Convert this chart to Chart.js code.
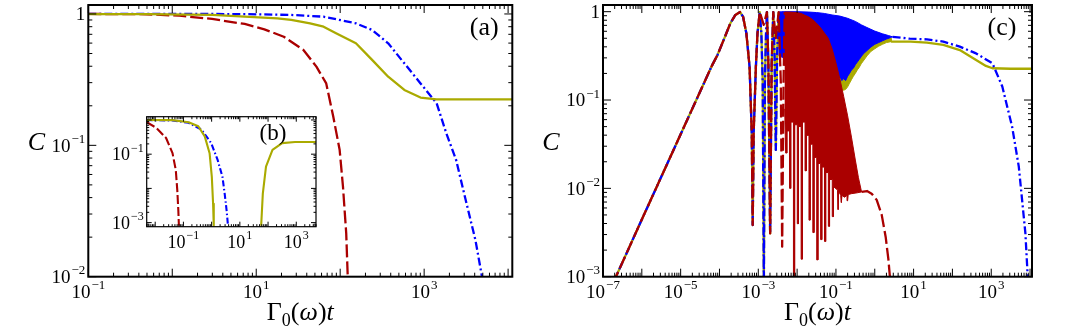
<!DOCTYPE html>
<html>
<head>
<meta charset="utf-8">
<script src="https://cdn.jsdelivr.net/npm/chart.js@4.4.0/dist/chart.umd.min.js"></script>
<style>
  body { margin: 0; background: #fff; }
  #wrap { position: relative; width: 1075px; height: 334px; background: #fff; }
  canvas { position: absolute; }
</style>
</head>
<body>
<div id="wrap">
  <canvas id="chartA" width="540" height="334" style="left:0;top:0"></canvas>
  <canvas id="chartC" width="535" height="334" style="left:540px;top:0"></canvas>
  <canvas id="chartB" width="240" height="160" style="left:100px;top:105px"></canvas>
</div>
<script>
// panel (a): C against Gamma0(omega) t, pairs are [t, C]
const aRed = [[0.1, 1.0], [0.498, 0.995], [1.22, 0.97], [2.98, 0.916], [7.29, 0.839], [12.5, 0.764], [21.3, 0.671],
  [36.5, 0.532], [52.1, 0.397], [68.2, 0.296], [82.8, 0.165], [98.6, 0.092], [108, 0.0484], [118, 0.0214],
  [123, 0.01], [126, 0.0072]];
const aBlue = [[0.1, 1.0], [1.22, 1.0], [7.29, 0.998], [26.1, 0.983], [43.8, 0.966], [63.4, 0.953], [154, 0.849],
  [240, 0.755], [373, 0.598], [581, 0.421], [906, 0.296], [1409, 0.209], [1841, 0.123], [2404, 0.0773],
  [3126, 0.0383], [4083, 0.019], [4887, 0.01], [4990, 0.0072]];
const aYellow = [[0.1, 0.998], [0.498, 0.998], [2.98, 0.983], [17.9, 0.927], [26.1, 0.9], [43.8, 0.849], [63.4, 0.8],
  [89.3, 0.713], [154, 0.598], [240, 0.447], [373, 0.333], [581, 0.264], [906, 0.231], [1409, 0.224],
  [3162, 0.224], [12000, 0.224]];

// panel (b), the inset
const bRed = [[0.005, 0.861], [0.011, 0.587], [0.0243, 0.297], [0.0411, 0.107], [0.0537, 0.0344], [0.0607, 0.0088],
  [0.0661, 0.00225], [0.0692, 0.00081]];
const bBlue = [[0.005, 0.998], [0.0409, 0.966], [0.153, 0.826], [0.437, 0.524], [0.962, 0.211], [1.633, 0.0678],
  [2.42, 0.0217], [2.9, 0.00702], [3.4, 0.00225], [3.8, 0.00081]];
const bYellowEarly = [[0.005, 0.998], [0.0409, 0.986], [0.153, 0.861], [0.337, 0.656], [0.571, 0.332], [0.847, 0.107],
  [1.016, 0.0217], [1.127, 0.00355], [1.19, 0.00081]];
const bYellowLate = [[57.0, 0.00081], [65.2, 0.00702], [84.5, 0.043], [143.5, 0.134], [316, 0.211], [904, 0.226],
  [5000, 0.226]];

// panel (c): common rise, first lobes, dense oscillation bands, tails
const cRise = [[1.78e-7, 8.3e-4], [1e-6, 4.44e-3], [1e-5, 0.0409], [3.16e-5, 0.124], [6.31e-5, 0.242], [8.91e-5, 0.324],
  [1.3e-4, 0.486], [1.91e-4, 0.74], [2.57e-4, 0.918], [3.39e-4, 0.99], [4.07e-4, 0.871], [4.93e-4, 0.569],
  [5.96e-4, 0.238], [6.79e-4, 0.042], [7.18e-4, 3.84e-3], [7.59e-4, 0.042], [8.67e-4, 0.238], [9.53e-4, 0.569],
  [1.09e-3, 0.99]];
const cRedLobes = [[1.09e-3, 0.99], [1.38e-3, 0.71], [1.67e-3, 0.99], [1.82e-3, 0.251], [2.02e-3, 3.09e-3],
  [2.21e-3, 0.251], [2.43e-3, 0.99], [2.82e-3, 0.501], [3.35e-3, 0.99], [3.8e-3, 0.158], [4.12e-3, 2.19e-3],
  [4.47e-3, 0.158], [4.79e-3, 0.99]];
const cRedBandTop = [[4.79e-3, 0.99], [6.31e-3, 0.99], [1.0e-2, 0.977], [1.26e-2, 0.955], [1.58e-2, 0.912],
  [2.0e-2, 0.871], [2.51e-2, 0.813], [3.16e-2, 0.741], [3.98e-2, 0.661], [5.01e-2, 0.575], [6.31e-2, 0.501],
  [7.94e-2, 0.38], [0.1, 0.263], [0.126, 0.174], [0.158, 0.11], [0.2, 0.0661], [0.251, 0.038], [0.316, 0.0209],
  [0.38, 0.0132], [0.457, 9.12e-3]];
const cRedBandBottom = [[4.79e-3, 0.0794],
  [5.07e-3, 0.0251], [5.43e-3, 0.0251], [5.43e-3, 0.0447], [6.38e-3, 0.0447],
  [6.38e-3, 0.01], [6.84e-3, 0.01], [6.84e-3, 0.0562], [8.04e-3, 0.0562],
  [8.04e-3, 7.9e-4], [8.61e-3, 7.9e-4], [8.61e-3, 0.0525], [1.01e-2, 0.0525],
  [1.01e-2, 3.98e-3], [1.08e-2, 3.98e-3], [1.08e-2, 0.0501], [1.27e-2, 0.0501],
  [1.27e-2, 1.58e-3], [1.36e-2, 1.58e-3], [1.36e-2, 0.0562], [1.6e-2, 0.0562],
  [1.6e-2, 0.0158], [1.72e-2, 0.0158], [1.72e-2, 0.0398], [2.02e-2, 0.0398],
  [2.02e-2, 4.37e-3], [2.16e-2, 4.37e-3], [2.16e-2, 0.0316], [2.54e-2, 0.0316],
  [2.54e-2, 3.16e-3], [2.72e-2, 3.16e-3], [2.72e-2, 0.0224], [3.2e-2, 0.0224],
  [3.2e-2, 1.55e-3], [3.43e-2, 1.55e-3], [3.43e-2, 0.0191], [4.03e-2, 0.0191],
  [4.03e-2, 2.63e-3], [4.32e-2, 2.63e-3], [4.32e-2, 0.0174], [5.07e-2, 0.0174],
  [5.07e-2, 2.51e-3], [5.43e-2, 2.51e-3], [5.43e-2, 0.0151], [6.38e-2, 0.0151],
  [6.38e-2, 3.72e-3], [6.84e-2, 3.72e-3], [6.84e-2, 0.0126], [8.04e-2, 0.0126],
  [8.04e-2, 4.79e-3], [8.61e-2, 4.79e-3], [8.61e-2, 0.0105],
  [0.11, 9.55e-3], [0.114, 5.75e-3], [0.117, 9.33e-3], [0.133, 8.32e-3], [0.138, 6.92e-3], [0.143, 8.32e-3],
  [0.166, 7.94e-3], [0.193, 8.32e-3], [0.2, 7.24e-3], [0.207, 8.51e-3], [0.251, 8.71e-3], [0.355, 8.91e-3],
  [0.457, 9.12e-3]];
const cRedTail = [[0.457, 9.12e-3], [0.631, 9.33e-3], [0.832, 8.71e-3], [1.12, 7.41e-3], [1.51, 5.01e-3],
  [1.91, 2.82e-3], [2.24, 1.58e-3], [2.51, 8.9e-4]];
const cDeepLobes = [[1.09e-3, 0.99], [1.2e-3, 0.562], [1.3e-3, 0.158], [1.39e-3, 7.9e-4], [1.48e-3, 0.158],
  [1.58e-3, 0.562], [1.67e-3, 0.99], [1.82e-3, 0.251], [2.02e-3, 3.09e-3], [2.21e-3, 0.251], [2.43e-3, 0.99],
  [2.63e-3, 0.316], [2.83e-3, 0.0272], [3.05e-3, 0.316], [3.35e-3, 0.99]];
const cBlueBandTop = [[3.35e-3, 0.99], [3.98e-3, 1.0], [1.0e-2, 1.0], [2.0e-2, 0.99], [3.16e-2, 0.977], [5.01e-2, 0.955],
  [7.94e-2, 0.918], [0.126, 0.891], [0.2, 0.841], [0.316, 0.776], [0.457, 0.708], [0.631, 0.661], [1.0, 0.603],
  [1.58, 0.562], [2.24, 0.537], [2.88, 0.519]];
const cBlueBandBottom = [[3.35e-3, 0.316], [5.01e-2, 0.2], [6.31e-2, 0.182], [7.94e-2, 0.191], [8.91e-2, 0.174],
  [0.1, 0.191], [0.112, 0.178], [0.126, 0.186], [0.141, 0.166], [0.158, 0.174], [0.178, 0.166], [0.2, 0.186],
  [0.224, 0.2], [0.251, 0.219], [0.282, 0.229], [0.316, 0.251], [0.355, 0.269], [0.398, 0.288], [0.447, 0.309],
  [0.501, 0.331], [0.631, 0.363], [0.794, 0.398], [1.0, 0.427], [1.26, 0.447], [1.58, 0.468], [2.0, 0.49],
  [2.51, 0.507], [2.88, 0.519]];
const cBlueTail = [[2.88, 0.519], [7.94, 0.495], [22.1, 0.486], [58.3, 0.458], [155, 0.402], [407, 0.337], [1076, 0.26],
  [1928, 0.142], [3451, 0.0499], [5129, 0.0176], [7586, 3.09e-3], [8710, 1.0e-3], [9120, 6.3e-4]];
const cYellowBandTop = [[5.01e-2, 0.251], [0.1, 0.251], [0.251, 0.282], [0.501, 0.398], [1.0, 0.501], [2.63, 0.501]];
const cYellowBandBottom = [[5.01e-2, 0.178], [8.91e-2, 0.166], [0.1, 0.158], [0.112, 0.145], [0.126, 0.138],
  [0.141, 0.132], [0.158, 0.129], [0.178, 0.132], [0.2, 0.141], [0.224, 0.155], [0.251, 0.17], [0.282, 0.186],
  [0.316, 0.2], [0.355, 0.219], [0.398, 0.234], [0.447, 0.257], [0.501, 0.275], [0.631, 0.316], [0.794, 0.355],
  [1.0, 0.38], [1.26, 0.407], [1.58, 0.427], [2.0, 0.447], [2.63, 0.458]];
const cYellowTail = [[2.63, 0.458], [8.39, 0.458], [22.1, 0.446], [58.3, 0.42], [155, 0.368], [407, 0.284],
  [729, 0.243], [1076, 0.229], [3162, 0.226], [12600, 0.226]];

// tick labels, as powers of ten
const aXTicks = [-1, 1, 3];
const aYTicks = [0, -1, -2];
const bXTicks = [-1, 1, 3];
const bYTicks = [-1, -3];
const cXTicks = [-7, -5, -3, -1, 1, 3];
const cYTicks = [0, -1, -2, -3];

const RED = '#aa0000', BLUE = '#0000ff', YELLOW = '#aaaa00';
const SERIF = '"Liberation Serif", "Times New Roman", serif';
const DASH = [13, 4], DOTDASH = [8, 3, 2, 3];

function series(points, color, width, dash) {
  return {
    data: points.map(p => ({ x: p[0], y: p[1] })),
    showLine: true, pointRadius: 0, pointHoverRadius: 0, fill: false, tension: 0, clip: 0,
    borderColor: color, borderWidth: width, borderDash: dash || [],
    borderCapStyle: 'butt', borderJoinStyle: 'round'
  };
}

// a closed outline: upper edge left to right, lower edge back again
function band(top, bottom, color) {
  const ds = series(top.concat(bottom.slice().reverse()), color, 1);
  ds.fill = 'shape';
  ds.backgroundColor = color;
  ds.borderJoinStyle = 'miter';
  return ds;
}

function logTicks(min, max) {
  const out = [];
  for (let e = Math.floor(Math.log10(min)); e <= Math.ceil(Math.log10(max)); e++) {
    for (let m = 1; m <= 9; m++) {
      const v = m * Math.pow(10, e);
      if (v >= min * 0.999 && v <= max * 1.001) out.push([v, m === 1]);
    }
  }
  return out;
}

function powerLabel(ctx, e, x, y, align, size) {
  const base = e === 0 ? '1' : '10';
  const sup = e === 0 ? '' : (e < 0 ? '\u2212' + (-e) : String(e));
  const supSize = Math.round(size * 0.66);
  ctx.textAlign = 'left';
  ctx.textBaseline = 'alphabetic';
  ctx.font = `${size}px ${SERIF}`;
  const wb = ctx.measureText(base).width;
  ctx.font = `${supSize}px ${SERIF}`;
  const ws = sup ? ctx.measureText(sup).width + 1 : 0;
  const x0 = align === 'center' ? x - (wb + ws) / 2 : x - wb - ws;
  ctx.font = `${size}px ${SERIF}`;
  ctx.fillText(base, x0, y);
  if (sup) {
    ctx.font = `${supSize}px ${SERIF}`;
    ctx.fillText(sup, x0 + wb + 1, y - size * 0.46);
  }
}

// Γ0(ω)t with a lowered 0
function axisTitle(ctx, cx, y, size) {
  const parts = [['\u0393', '', 0, 1], ['0', '', 0.26, 0.68], ['(', '', 0, 1], ['\u03c9', 'italic ', 0, 1],
    [')', '', 0, 1], ['t', 'italic ', 0, 1]];
  ctx.textAlign = 'left';
  ctx.textBaseline = 'alphabetic';
  let w = 0;
  const widths = parts.map(p => {
    ctx.font = `${p[1]}${Math.round(size * p[3])}px ${SERIF}`;
    const pw = ctx.measureText(p[0]).width;
    w += pw;
    return pw;
  });
  let x = cx - w / 2;
  parts.forEach((p, i) => {
    ctx.font = `${p[1]}${Math.round(size * p[3])}px ${SERIF}`;
    ctx.fillText(p[0], x, y + p[2] * size);
    x += widths[i];
  });
}

const framePlugin = {
  id: 'frame',
  beforeDatasetsDraw(chart) {
    const a = chart.chartArea, ctx = chart.ctx;
    ctx.save();
    ctx.fillStyle = '#fff';
    ctx.fillRect(a.left, a.top, a.right - a.left, a.bottom - a.top);
    ctx.restore();
  },
  afterDraw(chart, args, o) {
    const { ctx, chartArea: a } = chart;
    const xs = chart.scales.x, ys = chart.scales.y;
    ctx.save();
    ctx.strokeStyle = '#000';
    ctx.lineWidth = 1;
    ctx.beginPath();
    for (const [v, major] of logTicks(xs.min, xs.max)) {
      const p = xs.getPixelForValue(v), len = major ? o.major : o.minor;
      ctx.moveTo(p, a.bottom); ctx.lineTo(p, a.bottom - len);
      ctx.moveTo(p, a.top); ctx.lineTo(p, a.top + len);
    }
    for (const [v, major] of logTicks(ys.min, ys.max)) {
      const p = ys.getPixelForValue(v), len = major ? o.major : o.minor;
      ctx.moveTo(a.left, p); ctx.lineTo(a.left + len, p);
      ctx.moveTo(a.right, p); ctx.lineTo(a.right - len, p);
    }
    ctx.stroke();
    ctx.lineWidth = o.frameWidth;
    ctx.strokeRect(a.left, a.top, a.right - a.left, a.bottom - a.top);

    ctx.fillStyle = '#000';
    for (const e of o.xTicks) powerLabel(ctx, e, xs.getPixelForValue(Math.pow(10, e)), a.bottom + 21, 'center', o.size);
    for (const e of o.yTicks) powerLabel(ctx, e, a.left - 3, ys.getPixelForValue(Math.pow(10, e)) + o.size * 0.33, 'right', o.size);
    if (o.titles) {
      axisTitle(ctx, (a.left + a.right) / 2, a.bottom + 43, 26);
      ctx.font = `italic 26px ${SERIF}`;
      ctx.textAlign = 'center';
      ctx.fillText('C', a.left - 52, (a.top + a.bottom) / 2 + 9);
    }
    ctx.font = `${o.tagSize}px ${SERIF}`;
    ctx.textAlign = 'center';
    ctx.textBaseline = 'middle';
    ctx.fillText(o.tag, a.right - o.tagDx, a.top + o.tagDy);
    ctx.restore();
  }
};

function makeChart(id, datasets, xRange, yRange, padding, frame) {
  return new Chart(document.getElementById(id), {
    type: 'scatter',
    data: { datasets: datasets },
    options: {
      responsive: false,
      animation: false,
      devicePixelRatio: 1,
      events: [],
      layout: { padding: padding },
      plugins: { legend: { display: false }, tooltip: { enabled: false }, frame: frame },
      scales: {
        x: { type: 'logarithmic', min: xRange[0], max: xRange[1], bounds: 'data', display: false },
        y: { type: 'logarithmic', min: yRange[0], max: yRange[1], bounds: 'data', display: false }
      }
    },
    plugins: [framePlugin]
  });
}

makeChart('chartA', [
  series(aYellow, YELLOW, 2.3),
  series(aRed, RED, 2.3, DASH),
  series(aBlue, BLUE, 2.3, DOTDASH)
], [0.1, 11220], [0.01, 1.17], { left: 88.3, right: 27.7, top: 5, bottom: 57.3 },
  { xTicks: aXTicks, yTicks: aYTicks, size: 19, major: 8, minor: 4, frameWidth: 2, titles: true,
    tag: '(a)', tagSize: 26, tagDx: 28, tagDy: 23 });

makeChart('chartC', [
  series(cRise.concat(cRedLobes.slice(1)), RED, 2.3, DASH),
  band(cRedBandTop, cRedBandBottom, RED),
  series(cRedTail, RED, 2.3, DASH),
  series(cRise.concat(cDeepLobes.slice(1)), BLUE, 2.3, DOTDASH),
  band(cBlueBandTop, cBlueBandBottom, BLUE),
  series(cBlueTail, BLUE, 2.3, DOTDASH),
  series(cRise.concat(cDeepLobes.slice(1)), YELLOW, 2.3),
  band(cYellowBandTop, cYellowBandBottom, YELLOW),
  series(cYellowTail, YELLOW, 2.3)
], [1e-7, 11220], [1e-3, 1.19], { left: 63, right: 43, top: 5, bottom: 57.3 },
  { xTicks: cXTicks, yTicks: cYTicks, size: 19, major: 8, minor: 4, frameWidth: 2, titles: true,
    tag: '(c)', tagSize: 26, tagDx: 30, tagDy: 23 });

makeChart('chartB', [
  series(bYellowEarly, YELLOW, 2.1),
  series(bYellowLate, YELLOW, 2.1),
  series(bBlue, BLUE, 2.1, [6, 2.5, 1.5, 2.5]),
  series(bRed, RED, 2.1, [9, 3])
], [0.005, 5000], [7.6e-4, 1.245], { left: 46.7, right: 24, top: 11.7, bottom: 38.3 },
  { xTicks: bXTicks, yTicks: bYTicks, size: 18, major: 5, minor: 2.5, frameWidth: 1.2, titles: false,
    tag: '(b)', tagSize: 23, tagDx: 43, tagDy: 17 });
</script>
</body>
</html>
